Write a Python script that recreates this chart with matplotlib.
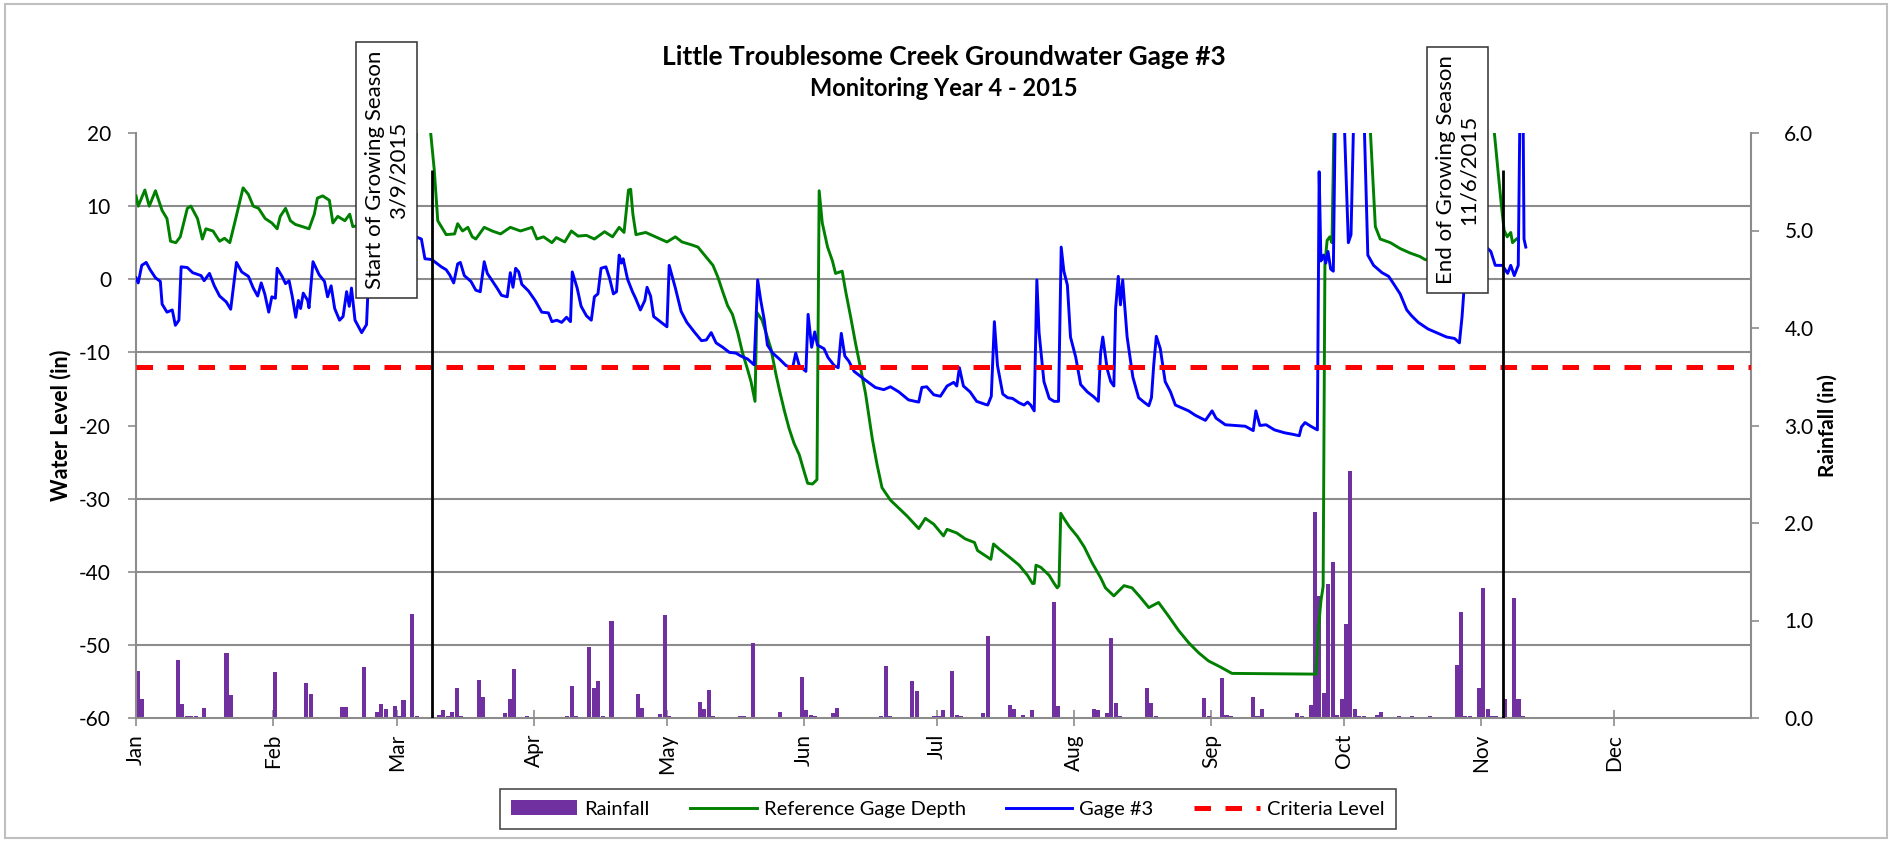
import numpy as np
import pandas as pd
import matplotlib
matplotlib.use("Agg")
import matplotlib.pyplot as plt
import matplotlib.dates as mdates
from matplotlib.patches import Rectangle
from matplotlib.transforms import IdentityTransform

plt.rcParams['font.family'] = ['Lato', 'DejaVu Sans']
plt.rcParams['axes.unicode_minus'] = False

YEAR_START = pd.Timestamp('2015-01-01')
YEAR_END = pd.Timestamp('2016-01-01')

# days are counted from Jan 1 (0.0 = midnight Jan 1); levels in inches
ref_days = [0, 0.5, 2, 3, 4.4, 5.9, 7, 7.8, 9, 10, 11.6, 12.4, 13.9, 15, 15.8, 17.4,
            18.9, 20, 21.2, 22.3, 24.2, 25.4, 26.5, 27.7, 29.2, 30.7, 31.9, 32.6, 33.8,
            34.9, 36, 37.6, 39.1, 40.3, 41, 42.2, 43.7, 44.5, 45.6, 47.2, 48.3, 49, 52,
            56, 60, 62.8, 63.5, 65, 66.6, 67.4, 68.2, 70.1, 72, 72.7, 73.8, 75, 76, 76.8,
            78.7, 80.5, 82.4, 84.6, 86.9, 89.5, 90.6, 92.1, 94, 95, 96.9, 98.4, 99.9,
            101.8, 103.6, 105.9, 107.7, 109.2, 110.3, 111.3, 111.8, 112.3, 113, 115.2,
            117.4, 120, 121.9, 123.4, 125.6, 127, 128.9, 130.4, 131.5, 132.6, 133.7,
            134.8, 136, 137.1, 138.2, 139, 139.9, 140.3, 141.5, 143.5, 144.6, 145.4,
            146.5, 147.6, 148.7, 149.9, 151, 151.8, 152.9, 153.9, 154.4, 155.1, 156.3,
            157.4, 158.1, 159.6, 160.4, 161.5, 162.6, 163.8, 164.9, 166.4, 167.5, 168.6,
            170.5, 172.4, 174.3, 176.9, 178.4, 180.3, 182.5, 183.3, 185.5, 187.4, 189.5,
            190.2, 191.7, 193.2, 193.8, 195.1, 197.4, 199.6, 201.5, 202.6, 203, 203.4,
            204.5, 206.4, 207.5, 208.2, 208.6, 209, 209.7, 210.9, 212.8, 214.3, 216.1,
            218, 219.1, 221, 223.3, 225.1, 227, 228.9, 231.1, 233.4, 235.6, 237.9, 240.2,
            242.4, 245, 247.7, 266.7, 267.2, 267.8, 268.3, 268.7, 269.2, 269.8, 270.3,
            271, 278.5, 279, 280.1, 281.2, 283.5, 285.7, 287.9, 290.2, 291.3, 294, 297,
            299.5, 300.5, 306, 307, 308.5, 309.2, 309.9, 310.7, 311.1, 312]
ref_level = [11.4, 10.0, 12.2, 10.0, 12.1, 9.4, 8.3, 5.2, 5.0, 5.8, 9.7, 10.0, 8.3, 5.5,
             6.9, 6.6, 5.2, 5.6, 5.0, 7.7, 12.5, 11.6, 10.0, 9.7, 8.3, 7.7, 6.9, 8.6, 9.7,
             8.0, 7.5, 7.2, 6.9, 8.9, 11.1, 11.4, 10.8, 7.7, 8.6, 8.0, 8.9, 7.2, 7.5, 7.0,
             6.8, 7.0, 24.0, 26.0, 20.0, 15.0, 8.0, 6.1, 6.2, 7.6, 6.6, 7.1, 5.8, 5.5,
             7.1, 6.6, 6.2, 7.1, 6.6, 7.1, 5.5, 5.8, 5.0, 5.7, 5.1, 6.6, 5.9, 6.0, 5.5,
             6.5, 5.8, 7.1, 6.4, 12.2, 12.3, 8.9, 6.1, 6.4, 5.8, 5.1, 5.8, 5.1, 4.7, 4.4,
             3.0, 1.9, 0.3, -1.7, -3.6, -4.8, -7.3, -10.1, -12.3, -14.0, -16.7, -4.5,
             -5.6, -9.5, -12.9, -15.1, -17.9, -20.4, -22.4, -24.0, -26.3, -27.9, -28.0,
             -27.4, 12.1, 7.7, 4.4, 2.5, 0.8, 1.1, -1.7, -5.1, -8.7, -12.3, -15.7, -21.8,
             -25.4, -28.5, -30.2, -31.3, -32.4, -34.1, -32.7, -33.5, -35.1, -34.2, -34.7,
             -35.5, -36.0, -37.1, -37.7, -38.3, -36.2, -36.9, -38.0, -39.1, -40.5, -41.6,
             -41.6, -39.1, -39.4, -40.5, -41.6, -42.2, -41.9, -32.0, -32.7, -33.8, -35.2,
             -36.6, -38.8, -40.8, -42.2, -43.3, -41.9, -42.2, -43.5, -44.9, -44.2, -46.1,
             -48.0, -49.7, -51.1, -52.2, -53.0, -53.9, -54.0, -48.0, -44.0, -42.0, 2.0,
             5.3, 5.8, 5.0, 30.0, 30.0, 20.0, 7.2, 5.5, 5.0, 4.2, 3.6, 3.1, 2.7, 2.4, 2.1,
             2.0, 30.0, 30.0, 20.0, 10.6, 6.7, 5.8, 6.4, 5.0, 5.5]

gage_days = [0, 0.5, 1.3, 2.3, 3.2, 4.4, 5.5, 5.9, 7, 8.2, 8.9, 9.7, 10.2, 11.6, 12.8,
             14.7, 15.4, 16.6, 17.7, 18.9, 20.4, 21.4, 22.7, 23.9, 25.4, 26.5, 27.5,
             28.3, 29.1, 30, 30.7, 31.5, 31.9, 33, 33.8, 34.6, 35.3, 36.1, 36.7, 37.2,
             37.8, 38.8, 39.1, 40, 41.4, 42.6, 43.3, 44.1, 44.9, 46, 46.8, 47.6, 48.2,
             48.7, 49.5, 51, 52.1, 52.5, 54, 57, 60, 62.5, 63.3, 64.5, 65.3, 66.8, 67.7,
             69, 70.1, 70.9, 71.8, 72.7, 73.3, 74.2, 75.7, 76.8, 77.8, 78.7, 79.4, 80.5,
             81.7, 82.6, 83.9, 84.6, 85.2, 85.8, 86.5, 87.2, 88.7, 90.2, 91.7, 93.2, 94,
             95.1, 96.2, 97.3, 98.2, 98.6, 99.7, 100.6, 101.8, 102.9, 103.6, 104.4,
             105.1, 106.2, 107, 107.9, 108.6, 109.2, 109.7, 110.1, 111.1, 112.2, 112.9,
             114, 115, 115.5, 116.3, 117, 118.5, 120, 120.5, 121.9, 123.2, 124.5, 126.3,
             127.8, 128.9, 130, 131.1, 132.6, 134.1, 135.6, 136.7, 138.2, 139.7, 140.5,
             141.2, 142, 142.7, 143.9, 145.4, 146.9, 148.4, 149.1, 149.9, 151.4, 151.9,
             152.7, 153.4, 154, 155.5, 156.4, 157.8, 158.7, 159.4, 160.2, 161.1, 162.3,
             163.8, 165.3, 167.1, 169, 170.5, 172.4, 174.6, 176.9, 177.6, 178.7, 180.3,
             181.8, 183.3, 184.8, 185.5, 186.1, 187, 188.5, 190, 191.9, 192.5, 193.3,
             194, 194.7, 195.9, 197, 198.1, 199.6, 200.7, 201.5, 202.2, 203, 203.6,
             204.1, 205.2, 206.4, 207.5, 208.5, 209.1, 209.7, 210.5, 211.2, 212.4,
             213.5, 215, 216.5, 217.5, 218, 218.5, 219.5, 220.3, 221, 221.4, 222, 222.5,
             223, 224, 225.3, 226.6, 227.8, 228.9, 229.5, 230, 230.6, 231.5, 232.6,
             233.8, 234.9, 236.4, 237.9, 239.4, 241.7, 243.2, 244.1, 246.2, 248.4,
             250.7, 252.5, 253.1, 254, 255.4, 257.3, 259.6, 261.4, 262.9, 263.4, 264.2,
             265.5, 267, 267.4, 267.8, 268.4, 268.9, 269.4, 270, 270.6, 271.2, 272.6,
             274, 274.6, 275.5, 277.2, 278.4, 279.7, 281.6, 283.1, 284.2, 285.7, 287.2,
             288.3, 289.8, 292, 293.9, 296.2, 298, 299.1, 299.7, 300.3, 301, 302, 303.5,
             305, 306.2, 307.2, 308.8, 310, 310.7, 311.5, 312.4, 312.9, 313.4, 313.7,
             314.1]
gage_level = [0.2, -0.5, 1.9, 2.3, 1.3, 0.2, -0.3, -3.4, -4.5, -4.2, -6.3, -5.6, 1.7, 1.6,
              0.9, 0.5, -0.2, 0.8, -0.9, -2.3, -3.1, -4.1, 2.3, 1.0, 0.4, -1.2, -2.3, -0.5,
              -2.0, -4.5, -2.4, -2.6, 1.5, 0.4, -0.6, -0.2, -2.3, -5.2, -2.9, -4.0, -1.9,
              -2.9, -3.9, 2.4, 0.6, -0.3, -2.4, -0.9, -4.0, -5.6, -5.1, -1.7, -3.7, -1.2,
              -5.6, -7.3, -6.2, -0.6, 0.5, -1.0, -1.5, -1.0, 5.8, 5.5, 2.8, 2.7, 2.3, 1.7,
              1.3, 0.6, -0.5, 2.1, 2.3, 0.5, -0.3, -1.5, -1.7, 2.4, 0.8, -0.2, -1.3, -2.2,
              -2.4, 0.9, -1.1, 1.5, 1.0, -0.7, -1.6, -2.9, -4.5, -4.6, -5.8, -5.6, -5.9,
              -5.2, -5.8, 1.0, -1.2, -3.7, -5.0, -5.6, -2.4, -2.0, 1.5, 1.7, 0.2, -2.0,
              -1.7, 3.3, 2.2, 2.8, 0.0, -1.7, -2.6, -4.2, -2.9, -1.1, -2.3, -5.1, -5.8,
              -6.5, 1.9, -1.2, -4.4, -5.9, -7.3, -8.4, -8.3, -7.3, -8.7, -9.3, -10.0,
              -10.1, -10.5, -10.9, -11.7, -0.1, -2.9, -5.6, -9.0, -10.1, -10.9, -11.8,
              -12.1, -10.1, -11.8, -12.6, -4.8, -9.3, -7.2, -9.0, -9.5, -10.7, -11.8,
              -12.1, -7.4, -10.5, -11.2, -12.6, -13.3, -14.0, -14.8, -15.1, -14.7, -15.4,
              -16.5, -16.8, -14.8, -14.7, -15.8, -16.0, -14.6, -14.1, -14.6, -12.1, -14.6,
              -15.4, -16.7, -17.1, -17.2, -16.0, -5.8, -11.8, -15.7, -16.2, -16.3, -16.9,
              -17.2, -16.8, -17.2, -18.0, -0.1, -7.3, -14.0, -16.3, -16.7, -16.7, 4.4,
              1.1, -0.8, -7.9, -10.7, -14.4, -15.4, -16.1, -16.7, -10.1, -7.9, -12.3,
              -14.0, -14.6, -4.0, 0.4, -3.5, -0.1, -7.9, -13.4, -16.2, -16.8, -17.3,
              -16.2, -11.8, -7.8, -9.5, -14.0, -15.4, -17.2, -17.6, -18.0, -18.6, -19.3,
              -18.0, -19.0, -19.9, -20.0, -20.1, -20.7, -18.0, -20.0, -19.9, -20.6, -21.0,
              -21.2, -21.4, -20.2, -19.6, -20.1, -20.6, 14.7, 2.5, 3.3, 2.2, 3.8, 1.4, 1.1,
              30.0, 30.0, 5.0, 6.1, 30.0, 30.0, 3.3, 1.9, 0.9, 0.4, -0.6, -2.0, -4.2, -5.0,
              -5.9, -6.8, -7.3, -7.9, -8.1, -8.7, -5.1, 0.0, 8.0, 9.0, 6.0, 4.5, 3.8, 1.9,
              1.9, 0.8, 1.9, 0.5, 1.9, 30.0, 30.0, 5.5, 4.4]

# daily rainfall totals (day index from Jan 1, inches)
rain_days = [0, 1, 9, 10, 11, 12, 13, 15, 20, 21, 31, 38, 39, 40, 46, 47, 51, 54, 55, 56,
             58, 59, 60, 62, 63, 68, 69, 70, 71, 72, 73, 77, 78, 83, 84, 85, 88, 97, 98,
             99, 102, 103, 104, 105, 107, 113, 114, 118, 119, 120, 127, 128, 129, 130,
             136, 137, 139, 145, 150, 151, 152, 153, 157, 158, 168, 169, 170, 175, 176,
             180, 181, 182, 184, 185, 186, 191, 192, 197, 198, 200, 202, 207, 208, 216,
             217, 219, 220, 221, 222, 228, 229, 230, 241, 242, 245, 246, 247, 252, 253,
             254, 262, 263, 265, 266, 267, 268, 269, 270, 271, 272, 273, 274, 275, 276,
             277, 280, 281, 285, 288, 292, 298, 299, 300, 301, 303, 304, 305, 306, 307,
             309, 311, 312, 313]
rain_in = [0.48, 0.19, 0.60, 0.14, 0.02, 0.02, 0.02, 0.10, 0.67, 0.24, 0.47, 0.36, 0.25,
           0.01, 0.11, 0.11, 0.52, 0.06, 0.14, 0.09, 0.12, 0.02, 0.18, 1.07, 0.02, 0.03,
           0.08, 0.02, 0.06, 0.31, 0.02, 0.39, 0.22, 0.05, 0.19, 0.50, 0.02, 0.02, 0.33,
           0.02, 0.73, 0.31, 0.38, 0.02, 1.00, 0.25, 0.10, 0.04, 1.06, 0.02, 0.16, 0.09,
           0.29, 0.02, 0.02, 0.02, 0.77, 0.06, 0.42, 0.08, 0.03, 0.02, 0.05, 0.10, 0.02,
           0.53, 0.02, 0.38, 0.28, 0.02, 0.02, 0.08, 0.48, 0.03, 0.02, 0.05, 0.84, 0.13,
           0.09, 0.03, 0.08, 1.19, 0.12, 0.09, 0.08, 0.05, 0.82, 0.15, 0.02, 0.31, 0.15,
           0.02, 0.21, 0.02, 0.41, 0.03, 0.02, 0.22, 0.02, 0.09, 0.05, 0.02, 0.13, 2.11,
           1.25, 0.26, 1.37, 1.60, 0.03, 0.19, 0.96, 2.53, 0.09, 0.02, 0.02, 0.03, 0.06,
           0.02, 0.02, 0.02, 0.54, 1.09, 0.02, 0.02, 0.31, 1.33, 0.09, 0.02, 0.02, 0.19,
           1.23, 0.19, 0.02]

CRITERIA_LEVEL = -12
SEASON_TOP = 15
season_marks = [(pd.Timestamp('2015-03-09'), 'Start of Growing Season\n3/9/2015'),
                (pd.Timestamp('2015-11-06'), 'End of Growing Season\n11/6/2015')]
month_labels = ['Jan', 'Feb', 'Mar', 'Apr', 'May', 'Jun',
                'Jul', 'Aug', 'Sep', 'Oct', 'Nov', 'Dec']

WL_MIN, WL_MAX = -60, 20
RAIN_MAX = 6.0

PURPLE = '#7030A0'
GREEN = '#008000'
BLUE = '#0000FF'
RED = '#FF0000'
GRID = '#8C8C8C'
TICK_SIZE = 15


def to_dates(days):
    return YEAR_START + pd.to_timedelta(np.asarray(days, dtype=float), unit='D')


W, H = 1891, 841
fig = plt.figure(figsize=(W / 100, H / 100), dpi=100)
fig.patch.set_facecolor('white')

ax_rain = fig.add_axes([136 / W, 1 - 718 / H, (1751 - 136) / W, (718 - 133) / H])
ax_wl = ax_rain.twinx()
ax_rain.yaxis.tick_right()
ax_rain.yaxis.set_label_position('right')
ax_wl.yaxis.tick_left()
ax_wl.yaxis.set_label_position('left')

# rainfall columns on the secondary (right) scale
bars = ax_rain.bar(to_dates(rain_days), rain_in, width=0.92, align='edge',
                   color=PURPLE, edgecolor='none', zorder=2, label='Rainfall')
ax_rain.set_ylim(0, RAIN_MAX)
ax_rain.set_yticks(np.arange(0, RAIN_MAX + 0.01, 1.0))
ax_rain.yaxis.set_major_formatter(plt.FormatStrFormatter('%.1f'))

# horizontal gridlines follow the water-level ticks but sit behind the bars
wl_ticks = np.arange(WL_MIN, WL_MAX + 1, 10)
grid_pos = (wl_ticks - WL_MIN) / (WL_MAX - WL_MIN) * RAIN_MAX
ax_rain.set_yticks(grid_pos, minor=True)
ax_rain.yaxis.grid(True, which='minor', color=GRID, lw=1.5, zorder=0)
ax_rain.set_axisbelow(True)

ax_rain.set_xlim(YEAR_START, YEAR_END)
ax_rain.set_xticks(pd.date_range('2015-01-01', periods=12, freq='MS'))
ax_rain.set_xticklabels(month_labels)

for side in ('left', 'right', 'bottom'):
    ax_rain.spines[side].set_color(GRID)
    ax_rain.spines[side].set_linewidth(1.5)
ax_rain.spines['top'].set_visible(False)
for sp in ax_wl.spines.values():
    sp.set_visible(False)

ax_rain.tick_params(axis='y', which='major', direction='out', length=6, width=1.2,
                    color=GRID, pad=18, labelsize=TICK_SIZE)
ax_rain.tick_params(axis='y', which='minor', length=0)
ax_rain.tick_params(axis='x', direction='inout', length=11, width=1.2, color=GRID,
                    pad=6, labelsize=TICK_SIZE, labelrotation=90)

# water levels on the primary (left) scale
ref_line, = ax_wl.plot(to_dates(ref_days), ref_level, color=GREEN, lw=2.1, zorder=3,
                       label='Reference Gage Depth')
gage_line, = ax_wl.plot(to_dates(gage_days), gage_level, color=BLUE, lw=2.1, zorder=4,
                        label='Gage #3')
crit_line = ax_wl.axhline(CRITERIA_LEVEL, color=RED, lw=3.6, ls=(0, (3.3, 2.9)),
                          zorder=5, label='Criteria Level')
ax_wl.vlines([d for d, _ in season_marks], WL_MIN, SEASON_TOP, color='black',
             lw=2.0, zorder=6)
ax_wl.set_ylim(WL_MIN, WL_MAX)
ax_wl.set_yticks(wl_ticks)
ax_wl.tick_params(axis='y', direction='out', length=6, width=1.2, color=GRID,
                  pad=12, labelsize=TICK_SIZE)

fig.text(943.5 / W, 1 - 57 / H, 'Little Troublesome Creek Groundwater Gage #3',
         ha='center', va='center', fontsize=19, fontweight='bold')
fig.text(943.5 / W, 1 - 88 / H, 'Monitoring Year 4 - 2015',
         ha='center', va='center', fontsize=17, fontweight='bold')
fig.text(61 / W, 1 - 425.5 / H, 'Water Level (in)', rotation=90,
         ha='center', va='center', fontsize=15.5, fontweight='bold')
fig.text(1828 / W, 1 - 425.5 / H, 'Rainfall (in)', rotation=90,
         ha='center', va='center', fontsize=15, fontweight='bold')

# growing season call-outs, placed just left of their marker lines
for when, label in season_marks:
    x_px = ax_wl.transData.transform((mdates.date2num(when), 0))[0]
    fig.text((x_px - 46) / W, 1 - 170 / H, label, rotation=90, ha='center',
             va='center', multialignment='center', fontsize=16, zorder=6,
             bbox=dict(boxstyle='square,pad=0.4', facecolor='white',
                       edgecolor='#303030', linewidth=1.1))

leg = fig.legend([bars, ref_line, gage_line, crit_line],
                 ['Rainfall', 'Reference Gage Depth', 'Gage #3', 'Criteria Level'],
                 loc='center', bbox_to_anchor=(948 / W, 1 - 809 / H), ncol=4,
                 frameon=True, fancybox=False, edgecolor='#202020', fontsize=14.5,
                 handlelength=3.3, handletextpad=0.35, columnspacing=2.0,
                 borderpad=0.55)
leg.get_frame().set_linewidth(1.2)

fig.add_artist(Rectangle((5, 3), 1882, 834, transform=IdentityTransform(),
                         facecolor='none', edgecolor='#BFBFBF', lw=1.5))

fig.savefig('out.png', dpi=100)
